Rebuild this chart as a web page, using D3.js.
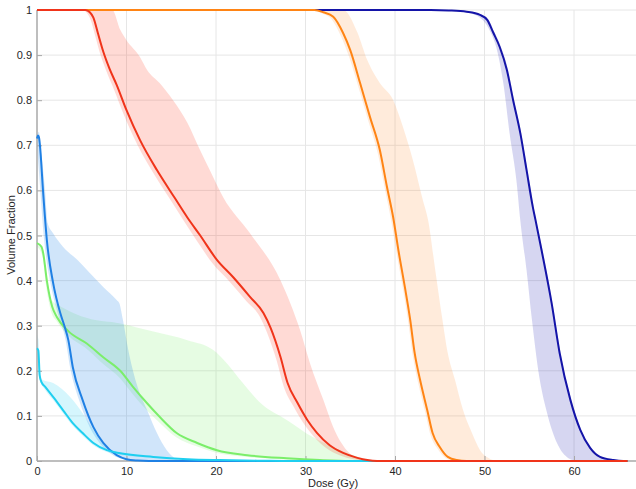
<!DOCTYPE html>
<html>
<head>
<meta charset="utf-8">
<script src="https://cdn.jsdelivr.net/npm/d3@7"></script>
<style>
  html, body { margin: 0; padding: 0; background: #ffffff; }
  #chart { width: 636px; height: 489px; }
  text { font-family: "Liberation Sans", Arial, sans-serif; fill: #262626; }
</style>
</head>
<body>
<div id="chart"></div>
<script>
// ---- data: [dose (Gy), volume fraction] ----
var xTicks = [0, 10, 20, 30, 40, 50, 60];
var yTicks = [0, 0.1, 0.2, 0.3, 0.4, 0.5, 0.6, 0.7, 0.8, 0.9, 1];
var yTickLabels = ["0", "0.1", "0.2", "0.3", "0.4", "0.5", "0.6", "0.7", "0.8", "0.9", "1"];

var navyLine = [[0,1],[44,1],[46,0.999],[48,0.996],[49.5,0.989],[50.3,0.978],[51,0.949],[51.7,0.918],[52.5,0.867],[53.2,0.80],[54,0.727],[54.7,0.645],[55.4,0.563],[55.7,0.534],[56.4,0.465],[57.5,0.35],[58.4,0.239],[59.6,0.135],[60.7,0.069],[61.8,0.029],[62.9,0.009],[64.4,0.002],[65.5,0],[66,0]];
var navyHi = [[0,1],[46,1],[48,0.997],[49.6,0.99],[50.4,0.98],[51.1,0.951],[51.8,0.92],[52.6,0.87],[53.3,0.80],[54.1,0.727],[54.8,0.645],[55.5,0.563],[56.5,0.465],[57.6,0.35],[58.5,0.239],[59.7,0.135],[60.8,0.069],[61.9,0.029],[63,0.009],[64.5,0.002],[65.6,0]];
var navyLo = [[0,1],[46,1],[48,0.995],[49.8,0.978],[50.7,0.95],[51.4,0.911],[52.1,0.838],[52.8,0.727],[53.6,0.616],[54,0.534],[54.7,0.423],[55.3,0.313],[56,0.202],[57,0.106],[58.1,0.04],[59.2,0.009],[59.9,0.002],[61,0],[65.6,0]];

var orangeLine = [[0,1],[31,1],[32,0.995],[33.1,0.985],[34.2,0.949],[35,0.911],[36.1,0.838],[37.2,0.763],[38.3,0.69],[39.1,0.608],[39.8,0.54],[40.4,0.465],[41.1,0.386],[41.7,0.313],[42.2,0.239],[42.8,0.18],[43.6,0.113],[44.2,0.062],[45,0.031],[45.9,0.009],[46.9,0.002],[48,0],[66,0]];
var orangeHi = [[0,1],[34.2,1],[35.8,0.95],[36.9,0.889],[38.3,0.838],[39.8,0.80],[40.9,0.74],[42,0.667],[43.1,0.579],[43.7,0.534],[44.5,0.423],[45.3,0.313],[45.9,0.239],[46.7,0.18],[47.6,0.113],[48.6,0.062],[49.5,0.024],[50.4,0.007],[51.5,0],[66,0]];
var orangeLo = [[0,1],[30.8,1],[31.8,0.993],[32.9,0.98],[34,0.94],[34.8,0.9],[35.9,0.83],[37,0.755],[38.1,0.68],[38.9,0.6],[39.6,0.53],[40.2,0.458],[40.9,0.38],[41.5,0.305],[42,0.232],[42.6,0.172],[43.4,0.106],[44,0.056],[44.8,0.026],[45.7,0.006],[46.7,0],[66,0]];

var redLine = [[0,1],[5.4,1],[5.9,0.995],[6.3,0.983],[6.8,0.949],[7.4,0.908],[8.1,0.87],[8.9,0.834],[10,0.778],[11.5,0.712],[13.4,0.645],[15.4,0.583],[16.8,0.54],[18.2,0.501],[20.1,0.446],[21.9,0.408],[23.8,0.364],[25.3,0.328],[26.1,0.295],[27.2,0.231],[28,0.173],[29.1,0.129],[30.2,0.091],[31.3,0.062],[32.7,0.035],[34.2,0.018],[35.8,0.007],[36.9,0.002],[38,0],[66,0]];
var redHi = [[0,1],[8.4,1],[9.3,0.956],[10,0.933],[11.5,0.896],[12.3,0.867],[13.7,0.838],[15.2,0.80],[16.8,0.75],[18.2,0.69],[19.3,0.645],[20.8,0.585],[23.8,0.505],[27.2,0.401],[28.3,0.35],[29.4,0.29],[30.5,0.217],[32,0.135],[33.1,0.075],[34.6,0.024],[36.1,0.004],[37.5,0],[66,0]];
var redLo = [[0,1],[5.1,1],[5.6,0.993],[6,0.978],[6.5,0.943],[7.1,0.9],[7.8,0.862],[8.6,0.824],[9.7,0.768],[11.2,0.702],[13.1,0.635],[15.1,0.573],[17.8,0.49],[19.7,0.436],[21.5,0.398],[23.4,0.354],[24.9,0.32],[25.7,0.285],[26.8,0.221],[27.6,0.163],[28.7,0.12],[29.8,0.083],[30.9,0.055],[32.3,0.029],[33.8,0.013],[35.4,0.004],[36.6,0],[66,0]];

var greenLine = [[0,0.483],[0.5,0.475],[0.7,0.46],[1.1,0.40],[1.7,0.342],[2.2,0.32],[3.5,0.288],[5.6,0.26],[7.4,0.23],[9.3,0.20],[10.7,0.165],[12.3,0.128],[13.7,0.098],[15.6,0.062],[17.9,0.04],[20.1,0.024],[23.5,0.013],[27.9,0.006],[31.6,0.002],[35,0],[66,0]];
var greenHi = [[0,0.483],[0.5,0.477],[0.7,0.465],[1.1,0.41],[1.5,0.36],[2.9,0.34],[5.6,0.317],[9.3,0.305],[13,0.287],[16.8,0.268],[19.7,0.246],[21.2,0.217],[23,0.173],[25,0.128],[27.9,0.091],[30.8,0.053],[33.9,0.024],[36,0.008],[37.5,0],[66,0]];
var greenLo = [[0,0.475],[0.6,0.455],[1,0.39],[1.6,0.33],[2.2,0.31],[3.5,0.278],[5.6,0.248],[7.4,0.215],[9.3,0.183],[10.7,0.148],[12.3,0.112],[13.7,0.085],[15.6,0.052],[17.9,0.032],[20.1,0.018],[23.5,0.009],[27.9,0.003],[31,0],[66,0]];

var blueLine = [[0,0.715],[0.12,0.722],[0.22,0.718],[0.33,0.70],[0.67,0.60],[1.1,0.49],[1.8,0.395],[2.6,0.328],[3.1,0.297],[3.5,0.268],[4,0.208],[5.1,0.135],[6.3,0.075],[7.4,0.04],[8.9,0.013],[10,0.004],[11.2,0.001],[12.5,0],[66,0]];
var blueHi = [[0,0.72],[0.2,0.73],[0.5,0.68],[0.9,0.6],[1.2,0.527],[1.8,0.505],[2.9,0.475],[4.5,0.446],[5.9,0.417],[7.4,0.386],[8.9,0.357],[9.2,0.35],[9.6,0.313],[10.2,0.246],[11.1,0.173],[12.3,0.113],[13.4,0.062],[14.5,0.024],[15.6,0.004],[16.5,0],[66,0]];
var blueLo = [[0,0.70],[0.3,0.62],[0.8,0.49],[1.5,0.395],[2.3,0.328],[3.2,0.268],[3.7,0.208],[4.7,0.135],[5.9,0.075],[7,0.04],[8.5,0.013],[9.7,0.004],[11,0],[66,0]];

var cyanLine = [[0,0.25],[0.15,0.245],[0.3,0.19],[0.5,0.175],[0.9,0.165],[1.8,0.142],[2.9,0.113],[4,0.084],[5.1,0.062],[6.3,0.04],[7.8,0.024],[9.3,0.017],[13,0.009],[16.8,0.004],[20.4,0.002],[26,0.0005],[30,0],[66,0]];
var cyanHi = [[0,0.28],[0.15,0.27],[0.4,0.19],[0.6,0.18],[1.8,0.173],[3.7,0.142],[5.1,0.106],[6.3,0.069],[7.5,0.035],[9,0.02],[13,0.01],[20,0.003],[30,0],[66,0]];
var cyanLo = [[0,0.24],[0.3,0.18],[0.9,0.158],[1.8,0.135],[2.9,0.106],[4,0.078],[5.1,0.056],[6.3,0.035],[7.8,0.02],[9.3,0.014],[13,0.007],[20,0.001],[28,0],[66,0]];

// drawing order matters: last one ends up on top
var structures = [
  {line: navyLine,   hi: navyHi,   lo: navyLo,   color: "#1414a8", band: "#1e1eb4", op: 0.18},
  {line: orangeLine, hi: orangeHi, lo: orangeLo, color: "#ff8414", band: "#ff8a2a", op: 0.17},
  {line: greenLine,  hi: greenHi,  lo: greenLo,  color: "#7bee6a", band: "#7bef6a", op: 0.19},
  {line: blueLine,   hi: blueHi,   lo: blueLo,   color: "#1f80e4", band: "#1f83e6", op: 0.21},
  {line: cyanLine,   hi: cyanHi,   lo: cyanLo,   color: "#1fcff0", band: "#1fd1f2", op: 0.19},
  {line: redLine,    hi: redHi,    lo: redLo,    color: "#f0341a", band: "#ff3b1f", op: 0.19}
];

var W = 636, H = 489;
var plot = {left: 37, right: 636, top: 10, bottom: 461};

var svg = d3.select("#chart").append("svg")
  .attr("width", W).attr("height", H);

// 0..60 Gy spans 37..574 px in the reference
var x = d3.scaleLinear().domain([0, 60]).range([plot.left, 574]);
var y = d3.scaleLinear().domain([0, 1]).range([plot.bottom, plot.top]);

/** grid */
var grid = svg.append("g");
grid.selectAll("line.vg").data(xTicks.slice(1)).enter().append("line")
  .attr("x1", function(d) { return x(d); }).attr("x2", function(d) { return x(d); })
  .attr("y1", plot.top).attr("y2", plot.bottom)
  .attr("stroke", "#e6e6e6").attr("stroke-width", 1);
grid.selectAll("line.hg").data(yTicks.slice(1)).enter().append("line")
  .attr("x1", plot.left).attr("x2", plot.right)
  .attr("y1", function(d) { return y(d); }).attr("y2", function(d) { return y(d); })
  .attr("stroke", "#e6e6e6").attr("stroke-width", 1);

var line = d3.line()
  .x(function(d) { return x(d[0]); })
  .y(function(d) { return y(d[1]); })
  .curve(d3.curveMonotoneX);

/** bands: upper edge, then lower edge walked backwards */
function bandPath(s) {
  var back = line(s.lo.slice().reverse());
  return line(s.hi) + "L" + back.slice(1) + "Z";
}
svg.append("g").selectAll("path").data(structures).enter().append("path")
  .attr("d", bandPath)
  .attr("fill", function(s) { return s.band; })
  .attr("fill-opacity", function(s) { return s.op; })
  .attr("stroke", "none");

/** axes */
var xAxis = d3.axisBottom(x).tickValues(xTicks).tickSize(-5).tickPadding(6);
var yAxis = d3.axisLeft(y).tickValues(yTicks).tickSize(-5).tickPadding(5)
  .tickFormat(function(d, i) { return yTickLabels[i]; });

var gx = svg.append("g").attr("transform", "translate(0," + plot.bottom + ")").call(xAxis);
gx.select(".domain").attr("d", "M" + plot.left + ",0H" + plot.right);
var gy = svg.append("g").attr("transform", "translate(" + plot.left + ",0)").call(yAxis);
gy.select(".domain").attr("d", "M0," + plot.top + "V" + plot.bottom);

[gx, gy].forEach(function(g) {
  g.select(".domain").attr("stroke", "#a8a8a8").attr("stroke-width", 1.5);
  g.selectAll(".tick line").attr("stroke", "#a8a8a8");
  g.selectAll(".tick text").attr("font-size", "11px")
    .attr("font-family", "Liberation Sans, Arial, sans-serif").attr("fill", "#262626");
});

/** mean curves */
svg.append("g").selectAll("path").data(structures).enter().append("path")
  .attr("d", function(s) { return line(s.line); })
  .attr("fill", "none")
  .attr("stroke", function(s) { return s.color; })
  .attr("stroke-width", 2)
  .attr("stroke-linejoin", "round");

/** axis titles */
svg.append("text")
  .attr("x", 333).attr("y", 487)
  .attr("text-anchor", "middle").attr("font-size", "11px")
  .text("Dose (Gy)");
svg.append("text")
  .attr("transform", "translate(15,235) rotate(-90)")
  .attr("text-anchor", "middle").attr("font-size", "11px")
  .text("Volume Fraction");
</script>
</body>
</html>
